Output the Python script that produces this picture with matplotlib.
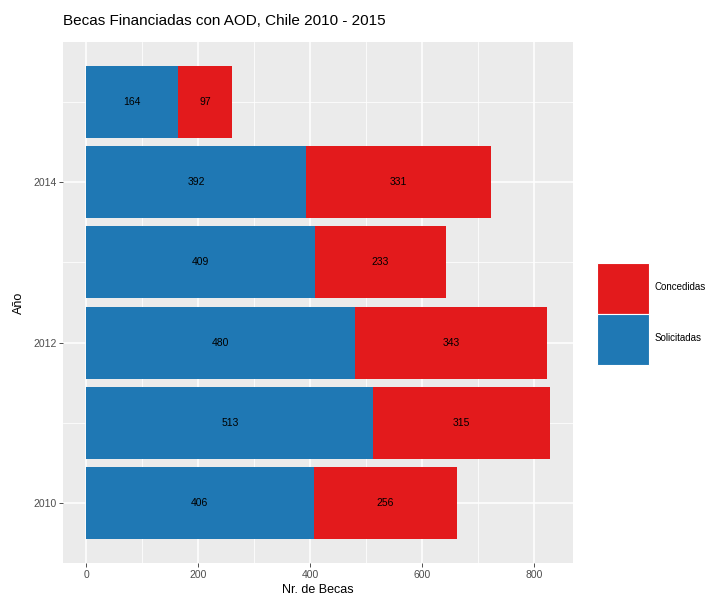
import numpy as np
import matplotlib
matplotlib.use('Agg')
import matplotlib.pyplot as plt
from matplotlib.patches import Patch

# Data
years = [2010, 2011, 2012, 2013, 2014, 2015]
solicitadas = [406, 513, 480, 409, 392, 164]
concedidas = [256, 315, 343, 233, 331, 97]
x_ticks = [0, 200, 400, 600, 800]
y_ticks = [2010, 2012, 2014]

blue = '#1F78B4'
red = '#E31A1C'
tick_gray = '#4D4D4D'

plt.rcParams['font.family'] = ['Liberation Sans', 'DejaVu Sans']

fig = plt.figure(figsize=(7.14, 6.0), dpi=100)
ax = fig.add_axes([0.0882, 0.0617, 0.7143, 0.8683])

ax.set_facecolor('#EBEBEB')
for s in ax.spines.values():
    s.set_visible(False)

# stacked horizontal bars
ax.barh(years, solicitadas, height=0.9, color=blue, zorder=3)
ax.barh(years, concedidas, left=solicitadas, height=0.9, color=red, zorder=3)

# labels in the middle of each segment
for y, s, c in zip(years, solicitadas, concedidas):
    ax.text(s / 2, y, str(s), ha='center', va='center', fontsize=7.5, color='black', zorder=4)
    ax.text(s + c / 2, y, str(c), ha='center', va='center', fontsize=7.5, color='black', zorder=4)

totals = np.array(solicitadas) + np.array(concedidas)
xmax = totals.max()
ax.set_xlim(-0.05 * xmax, xmax * 1.05)
ax.set_ylim(2009.55 - 0.295, 2015.45 + 0.295)

ax.set_xticks(x_ticks)
ax.set_yticks(y_ticks)
ax.set_xticks([100, 300, 500, 700], minor=True)
ax.set_yticks([2011, 2013, 2015], minor=True)
ax.grid(True, which='major', color='white', linewidth=1.1, zorder=0)
ax.grid(True, which='minor', color='white', linewidth=0.55, zorder=0)
ax.set_axisbelow(True)
ax.tick_params(which='major', length=2.75, width=0.6, color='#333333',
               labelsize=7.5, labelcolor=tick_gray, pad=2)
ax.tick_params(which='minor', length=0)

ax.set_xlabel('Nr. de Becas', fontsize=9, labelpad=3)
ax.set_ylabel('Año', fontsize=9, labelpad=6)
fig.text(0.0882, 0.953, 'Becas Financiadas con AOD, Chile 2010 - 2015',
         fontsize=11, ha='left', va='bottom')

handles = [Patch(facecolor=red, edgecolor='white', linewidth=0.8, label='Concedidas'),
           Patch(facecolor=blue, edgecolor='white', linewidth=0.8, label='Solicitadas')]
fig.legend(handles=handles, loc='center left', bbox_to_anchor=(0.83, 0.477),
           frameon=False, fontsize=7, handlelength=5.3, handleheight=7.7,
           labelspacing=0.0, handletextpad=0.6, borderpad=0)

fig.savefig('out.png', dpi=100)
